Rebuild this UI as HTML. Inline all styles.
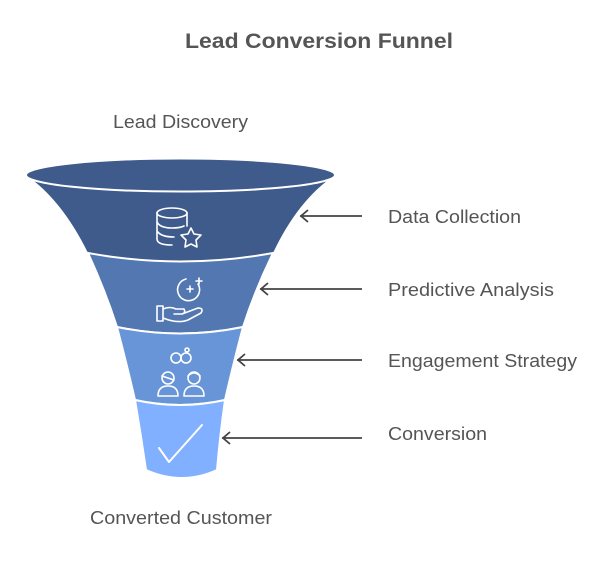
<!DOCTYPE html>
<html><head><meta charset="utf-8"><style>
body{margin:0;background:#fff;width:615px;height:578px;overflow:hidden;font-family:"Liberation Sans",sans-serif}
</style></head><body>
<svg width="615" height="578" viewBox="0 0 615 578" xmlns="http://www.w3.org/2000/svg">
<text x="185" y="48" textLength="268" lengthAdjust="spacingAndGlyphs" font-size="21" font-weight="bold" fill="#555" font-family="Liberation Sans, sans-serif">Lead Conversion Funnel</text>
<text x="113" y="128" textLength="135" lengthAdjust="spacingAndGlyphs" font-size="18" fill="#555" font-family="Liberation Sans, sans-serif">Lead Discovery</text>
<text x="90" y="524" textLength="182" lengthAdjust="spacingAndGlyphs" font-size="18" fill="#555" font-family="Liberation Sans, sans-serif">Converted Customer</text>
<!-- bands -->
<path d="M26,175 Q62,200 88,253 Q180,270 273,253 Q298,200 335,175 Z" fill="#3e5b8b"/>
<path d="M88,253 Q180,270 273,253 Q255,290 243,327 Q180,340 117,327 Q105,290 88,253 Z" fill="#5277b1" stroke="#fff" stroke-width="2"/>
<path d="M117,327 Q180,340 243,327 Q233,365 225,400 Q180,410 135,400 Q127,365 117,327 Z" fill="#6895d7" stroke="#fff" stroke-width="2"/>
<path d="M135,400 Q180,410 225,400 Q220,435 217,470 Q182,486 146,470 Q141,435 135,400 Z" fill="#80b0ff" stroke="#fff" stroke-width="2"/>
<ellipse cx="180.5" cy="175" rx="154.5" ry="16.5" fill="#3e5b8b" stroke="#fff" stroke-width="2"/>
<!-- icons -->
<g fill="none" stroke="#fff" stroke-width="1.6" stroke-linecap="round" stroke-linejoin="round">
<ellipse cx="172" cy="213" rx="15" ry="5"/>
<path d="M157,213 V239 Q157,245 172,245 M187,213 V226 M157,222 Q160,228 172,228 Q180,228 184,226 M157,231 Q161,237 174,237"/>
<path d="M191,228 L194,234 L201,235 L196,240 L197,247 L191,244 L185,247 L186,240 L181,235 L188,234 Z"/>
<path d="M198,284 A11,11 0 1 1 186,279"/>
<path d="M187,289 H193 M190,286 V292 M196,281 H202 M199,278 V284"/>
<path d="M157,306 V321 H163 V306 Z M163,309 Q170,306 176,309 H184 Q186,313 182,314 H174 M182,314 L198,308 Q204,308 201,313 L188,320 Q178,324 163,318"/>
<circle cx="176" cy="358" r="5"/><circle cx="186" cy="358" r="5"/><circle cx="187" cy="350" r="2"/>
<circle cx="168" cy="378" r="6"/><path d="M158,396 Q158,386 168,386 Q178,386 178,396 Z M162,376 L174,380"/>
<circle cx="194" cy="378" r="6"/><path d="M184,396 Q184,386 194,386 Q204,386 204,396 Z M188,376 Q194,370 200,376"/>
<path d="M159,448 L169,462 L202,425" stroke-width="2"/>
</g>
<!-- arrows -->
<g stroke="#444" stroke-width="1.8" fill="none">
<path d="M300,216 H362 M308,210 L301,216 L308,222"/>
<path d="M260,289 H362 M268,283 L261,289 L268,295"/>
<path d="M237,360 H362 M245,354 L238,360 L245,366"/>
<path d="M222,438 H362 M230,432 L223,438 L230,444"/>
</g>
<g font-size="18" fill="#555" font-family="Liberation Sans, sans-serif">
<text x="388" y="223" textLength="133" lengthAdjust="spacingAndGlyphs">Data Collection</text>
<text x="388" y="296" textLength="166" lengthAdjust="spacingAndGlyphs">Predictive Analysis</text>
<text x="388" y="367" textLength="189" lengthAdjust="spacingAndGlyphs">Engagement Strategy</text>
<text x="388" y="440" textLength="99" lengthAdjust="spacingAndGlyphs">Conversion</text>
</g>
</svg>
</body></html>
